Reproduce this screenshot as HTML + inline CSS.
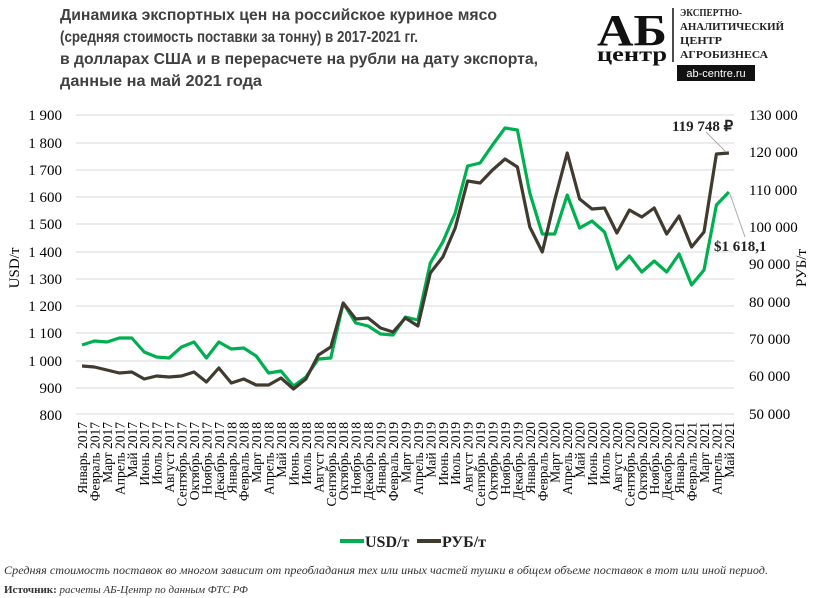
<!DOCTYPE html>
<html><head><meta charset="utf-8"><style>
html,body{margin:0;padding:0;background:#fff}
svg{display:block}
.t{font-family:"Liberation Sans Narrow","Liberation Sans",sans-serif;font-weight:bold;font-size:16px;fill:#404040}
.ax{font-family:"Liberation Serif",serif;font-size:15px;fill:#000}
.mo{font-family:"Liberation Serif",serif;font-size:13.5px;fill:#000}
</style></head><body>
<svg width="824" height="598" viewBox="0 0 824 598" xmlns="http://www.w3.org/2000/svg">
<text class="t" x="60" y="20" textLength="437" lengthAdjust="spacingAndGlyphs">Динамика экспортных цен на российское куриное мясо</text>
<text class="t" x="60" y="42" textLength="358" lengthAdjust="spacingAndGlyphs">(средняя стоимость поставки за тонну) в 2017-2021 гг.</text>
<text class="t" x="60" y="64" textLength="478" lengthAdjust="spacingAndGlyphs">в долларах США и в перерасчете на рубли на дату экспорта,</text>
<text class="t" x="60" y="86" textLength="202" lengthAdjust="spacingAndGlyphs">данные  на май 2021 года</text>
<!-- logo -->
<text x="597" y="45" font-family="Liberation Serif,serif" font-weight="bold" font-size="44" fill="#111" textLength="70" lengthAdjust="spacingAndGlyphs">АБ</text>
<text x="597" y="61" font-family="Liberation Serif,serif" font-weight="bold" font-size="20" fill="#111" textLength="70" lengthAdjust="spacingAndGlyphs">центр</text>
<line x1="673" y1="8" x2="673" y2="62" stroke="#111" stroke-width="1.5"/>
<g font-family="Liberation Serif,serif" font-weight="bold" font-size="11" fill="#222">
<text x="680" y="16" textLength="62" lengthAdjust="spacingAndGlyphs">ЭКСПЕРТНО-</text>
<text x="680" y="30" textLength="104" lengthAdjust="spacingAndGlyphs">АНАЛИТИЧЕСКИЙ</text>
<text x="680" y="44" textLength="42" lengthAdjust="spacingAndGlyphs">ЦЕНТР</text>
<text x="680" y="58" textLength="88" lengthAdjust="spacingAndGlyphs">АГРОБИЗНЕСА</text>
</g>
<rect x="677" y="65" width="78" height="16" fill="#111"/>
<text x="716" y="77" text-anchor="middle" font-family="Liberation Sans,sans-serif" font-size="11" fill="#fff">ab-centre.ru</text>
<!-- grid -->
<g stroke="#d9d9d9" stroke-width="1">
<line x1="76" x2="734" y1="115" y2="115"/><line x1="76" x2="734" y1="143" y2="143"/><line x1="76" x2="734" y1="170" y2="170"/><line x1="76" x2="734" y1="197" y2="197"/><line x1="76" x2="734" y1="224" y2="224"/><line x1="76" x2="734" y1="252" y2="252"/><line x1="76" x2="734" y1="279" y2="279"/><line x1="76" x2="734" y1="306" y2="306"/><line x1="76" x2="734" y1="333" y2="333"/><line x1="76" x2="734" y1="361" y2="361"/><line x1="76" x2="734" y1="388" y2="388"/><line x1="76" x2="734" y1="414" y2="414"/>
</g>
<g class="ax" text-anchor="end">
<text x="62" y="120">1 900</text><text x="62" y="148">1 800</text><text x="62" y="175">1 700</text><text x="62" y="202">1 600</text><text x="62" y="229">1 500</text><text x="62" y="257">1 400</text><text x="62" y="284">1 300</text><text x="62" y="311">1 200</text><text x="62" y="338">1 100</text><text x="62" y="366">1 000</text><text x="62" y="393">900</text><text x="62" y="420">800</text>
</g>
<g class="ax">
<text x="749" y="120">130 000</text><text x="749" y="157">120 000</text><text x="749" y="195">110 000</text><text x="749" y="232">100 000</text><text x="749" y="269">90 000</text><text x="749" y="307">80 000</text><text x="749" y="344">70 000</text><text x="749" y="381">60 000</text><text x="749" y="419">50 000</text>
</g>
<text class="ax" transform="translate(19,268) rotate(-90)" text-anchor="middle">USD/т</text>
<text class="ax" transform="translate(806,268) rotate(-90)" text-anchor="middle">РУБ/т</text>
<!-- series -->
<polyline fill="none" stroke="#00b050" stroke-width="3.2" stroke-linejoin="round" points="82,345 94.4,341 106.9,342 119.3,338 131.8,338 144.2,352 156.6,357 169.1,358 181.5,347 194,342 206.4,358 218.8,342 231.3,349 243.7,348 256.2,356 268.6,373 281,371 293.5,386 305.9,377 318.4,359 330.8,358 343.2,303 355.7,323 368.1,326 380.6,334 393,335 405.4,317 417.9,320 430.3,263 442.8,242 455.2,213 467.6,166 480.1,163 492.5,145 505,128 517.4,130 529.8,193 542.3,234 554.7,234 567.2,195 579.6,228 592,221 604.5,232 616.9,269 629.4,256 641.8,272 654.2,261 666.7,272 679.1,254 691.6,285 704,270 716.4,205 728.9,192"/>
<polyline fill="none" stroke="#403a2f" stroke-width="3.2" stroke-linejoin="round" points="82,366 94.4,367 106.9,370 119.3,373 131.8,372 144.2,379 156.6,376 169.1,377 181.5,376 194,372 206.4,382 218.8,368 231.3,383 243.7,379 256.2,385 268.6,385 281,378 293.5,389 305.9,379 318.4,355 330.8,347 343.2,303 355.7,319 368.1,318 380.6,328 393,332 405.4,318 417.9,326 430.3,273 442.8,257 455.2,228 467.6,181 480.1,183 492.5,170 505,159 517.4,167 529.8,227 542.3,252 554.7,200 567.2,153 579.6,199 592,209 604.5,208 616.9,233 629.4,210 641.8,217 654.2,208 666.7,234 679.1,216 691.6,247 704,232 716.4,154 728.9,153"/>
<!-- annotations -->
<line x1="706" y1="132" x2="726" y2="152" stroke="#aaa" stroke-width="1"/>
<line x1="730" y1="194" x2="745" y2="237" stroke="#aaa" stroke-width="1"/>
<text x="672" y="131" font-family="Liberation Serif,serif" font-weight="bold" font-size="15" fill="#222">119 748 ₽</text>
<text x="714" y="251" font-family="Liberation Serif,serif" font-weight="bold" font-size="15" fill="#222">$1 618,1</text>
<!-- month labels -->
<g class="mo" text-anchor="end">
<text transform="translate(87,422) rotate(-90)">Январь 2017</text>
<text transform="translate(99.4,422) rotate(-90)">Февраль 2017</text>
<text transform="translate(111.9,422) rotate(-90)">Март 2017</text>
<text transform="translate(124.3,422) rotate(-90)">Апрель 2017</text>
<text transform="translate(136.8,422) rotate(-90)">Май 2017</text>
<text transform="translate(149.2,422) rotate(-90)">Июнь 2017</text>
<text transform="translate(161.6,422) rotate(-90)">Июль 2017</text>
<text transform="translate(174.1,422) rotate(-90)">Август 2017</text>
<text transform="translate(186.5,422) rotate(-90)">Сентябрь 2017</text>
<text transform="translate(199,422) rotate(-90)">Октябрь 2017</text>
<text transform="translate(211.4,422) rotate(-90)">Ноябрь 2017</text>
<text transform="translate(223.8,422) rotate(-90)">Декабрь 2017</text>
<text transform="translate(236.3,422) rotate(-90)">Январь 2018</text>
<text transform="translate(248.7,422) rotate(-90)">Февраль 2018</text>
<text transform="translate(261.2,422) rotate(-90)">Март 2018</text>
<text transform="translate(273.6,422) rotate(-90)">Апрель 2018</text>
<text transform="translate(286,422) rotate(-90)">Май 2018</text>
<text transform="translate(298.5,422) rotate(-90)">Июнь 2018</text>
<text transform="translate(310.9,422) rotate(-90)">Июль 2018</text>
<text transform="translate(323.4,422) rotate(-90)">Август 2018</text>
<text transform="translate(335.8,422) rotate(-90)">Сентябрь 2018</text>
<text transform="translate(348.2,422) rotate(-90)">Октябрь 2018</text>
<text transform="translate(360.7,422) rotate(-90)">Ноябрь 2018</text>
<text transform="translate(373.1,422) rotate(-90)">Декабрь 2018</text>
<text transform="translate(385.6,422) rotate(-90)">Январь 2019</text>
<text transform="translate(398,422) rotate(-90)">Февраль 2019</text>
<text transform="translate(410.4,422) rotate(-90)">Март 2019</text>
<text transform="translate(422.9,422) rotate(-90)">Апрель 2019</text>
<text transform="translate(435.3,422) rotate(-90)">Май 2019</text>
<text transform="translate(447.8,422) rotate(-90)">Июнь 2019</text>
<text transform="translate(460.2,422) rotate(-90)">Июль 2019</text>
<text transform="translate(472.6,422) rotate(-90)">Август 2019</text>
<text transform="translate(485.1,422) rotate(-90)">Сентябрь 2019</text>
<text transform="translate(497.5,422) rotate(-90)">Октябрь 2019</text>
<text transform="translate(510,422) rotate(-90)">Ноябрь 2019</text>
<text transform="translate(522.4,422) rotate(-90)">Декабрь 2019</text>
<text transform="translate(534.8,422) rotate(-90)">Январь 2020</text>
<text transform="translate(547.3,422) rotate(-90)">Февраль 2020</text>
<text transform="translate(559.7,422) rotate(-90)">Март 2020</text>
<text transform="translate(572.2,422) rotate(-90)">Апрель 2020</text>
<text transform="translate(584.6,422) rotate(-90)">Май 2020</text>
<text transform="translate(597,422) rotate(-90)">Июнь 2020</text>
<text transform="translate(609.5,422) rotate(-90)">Июль 2020</text>
<text transform="translate(621.9,422) rotate(-90)">Август 2020</text>
<text transform="translate(634.4,422) rotate(-90)">Сентябрь 2020</text>
<text transform="translate(646.8,422) rotate(-90)">Октябрь 2020</text>
<text transform="translate(659.2,422) rotate(-90)">Ноябрь 2020</text>
<text transform="translate(671.7,422) rotate(-90)">Декабрь 2020</text>
<text transform="translate(684.1,422) rotate(-90)">Январь 2021</text>
<text transform="translate(696.6,422) rotate(-90)">Февраль 2021</text>
<text transform="translate(709,422) rotate(-90)">Март 2021</text>
<text transform="translate(721.4,422) rotate(-90)">Апрель 2021</text>
<text transform="translate(733.9,422) rotate(-90)">Май 2021</text>
</g>
<!-- legend -->
<line x1="340" y1="541" x2="364" y2="541" stroke="#00b050" stroke-width="4"/>
<text x="365" y="547" font-family="Liberation Serif,serif" font-weight="bold" font-size="16" fill="#222">USD/т</text>
<line x1="417" y1="541" x2="441" y2="541" stroke="#403a2f" stroke-width="4"/>
<text x="442" y="547" font-family="Liberation Serif,serif" font-weight="bold" font-size="16" fill="#222">РУБ/т</text>
<!-- footnotes -->
<text x="4" y="574" font-family="Liberation Serif,serif" font-style="italic" font-size="11.5" fill="#333" textLength="764" lengthAdjust="spacingAndGlyphs">Средняя стоимость поставок во многом зависит от преобладания тех или иных частей тушки в общем объеме поставок в тот или иной период.</text>
<text x="4" y="593" font-family="Liberation Serif,serif" font-size="11" fill="#333"><tspan font-weight="bold">Источник:</tspan><tspan font-style="italic"> расчеты АБ-Центр  по данным ФТС РФ</tspan></text>
</svg>
</body></html>
